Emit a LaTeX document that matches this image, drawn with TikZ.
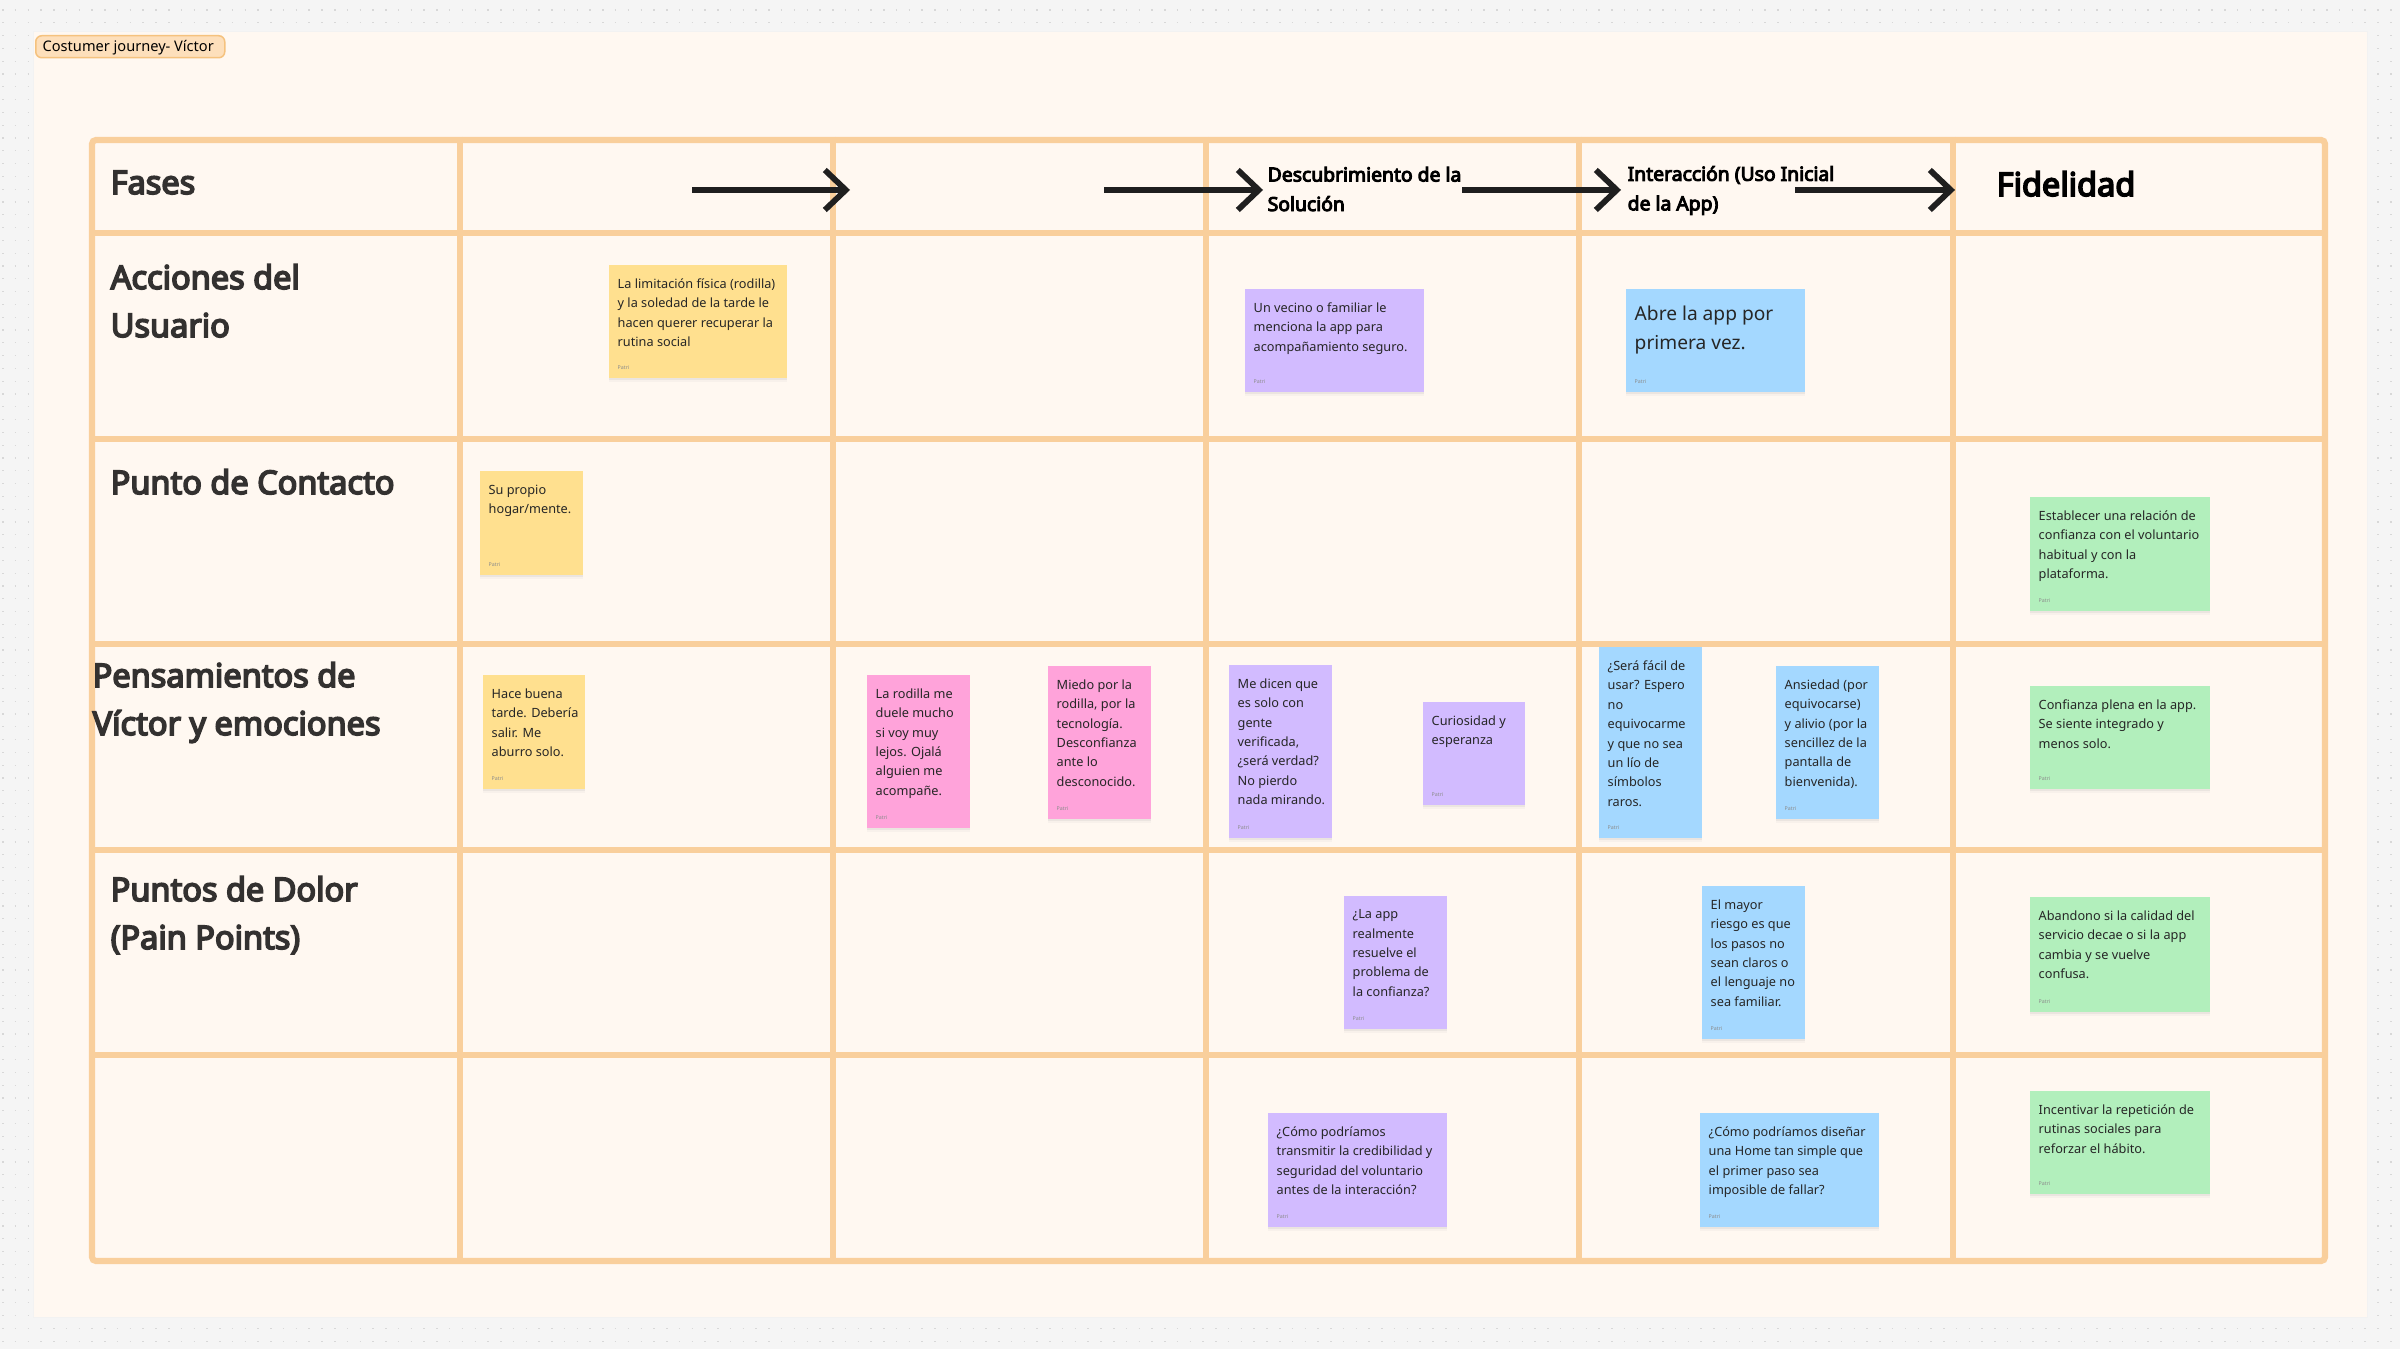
\documentclass[tikz,border=0pt]{standalone}
\usepackage{fontspec}
\setmainfont{Noto Sans}
\newfontfamily\negrita[FakeBold=5]{Noto Sans}
\usetikzlibrary{arrows.meta,shadows}
\definecolor{lienzo}{HTML}{F5F5F5}
\definecolor{punto}{HTML}{D8D8D8}
\definecolor{marco}{HTML}{FFF8F1}
\definecolor{rejilla}{HTML}{F9CF9C}
\definecolor{chapa}{HTML}{FDDFBB}
\definecolor{chapaborde}{HTML}{F5C27E}
\definecolor{amarillo}{HTML}{FFE08F}
\definecolor{rosa}{HTML}{FFA3DA}
\definecolor{morado}{HTML}{D2BBFF}
\definecolor{azul}{HTML}{A4D8FF}
\definecolor{verde}{HTML}{B2EFBC}
\definecolor{titulo}{HTML}{333130}
\tikzset{
	lineas/.style={rejilla, line width=0.062cm},
	flecha/.style={line width=0.058cm, black!88, -{Straight Barb[length=0.21cm,width=0.4cm]}},
	fase/.style={anchor=base west, inner sep=0, align=left, font=\negrita\fontsize{9.25}{13.7}\selectfont, text=titulo},
	subfase/.style={anchor=west, inner sep=0, align=left, font=\negrita\fontsize{5.5}{8.4}\selectfont, text=black},
	nota/.style={fill=#1, anchor=north west, inner sep=0, yshift=0.01cm, drop shadow={shadow xshift=0cm, shadow yshift=-0.045cm, opacity=0.05}, drop shadow={shadow xshift=0cm, shadow yshift=-0.02cm, opacity=0.1}},
	notatxt/.style={anchor=north west, inner sep=0, xshift=0.09cm, yshift=-0.14cm, align=left, text=black!85, font=\fontsize{3.62}{5.52}\selectfont},
	firma/.style={anchor=south west, inner sep=0, xshift=0.09cm, yshift=0.08cm, text=black!45, font=\fontsize{1.5}{2}\selectfont},
}
\begin{document}
\begin{tikzpicture}[x=1cm, y=-1cm]
	\useasboundingbox (0,0) rectangle (24,13.49);
	\fill[lienzo] (0,0) rectangle (24,13.49);
	\foreach \f in {0,...,105}
		\draw[punto, line width=0.012cm, dash pattern=on 0.015cm off 0.1127cm] (0.02,0.10+\f*0.128) -- (24,0.10+\f*0.128);
	\fill[marco, draw=black!5, line width=0.01cm] (0.33,0.32) rectangle (23.67,13.17);

	% rejilla
	\foreach \x in {4.60,8.33,12.06,15.79,19.53}
		\draw[lineas] (\x,1.37) -- (\x,12.64);
	\foreach \y in {2.33,4.39,6.44,8.50,10.55}
		\draw[lineas] (0.89,\y) -- (23.28,\y);
	\draw[lineas, rounded corners=0.04cm] (0.92,1.40) rectangle (23.25,12.61);

	\node[draw=chapaborde, fill=chapa, line width=0.015cm, rounded corners=0.06cm, anchor=north west, minimum width=1.89cm, minimum height=0.22cm, inner sep=0] (chapa) at (0.35,0.35) {};
	\node[anchor=west, inner sep=0, font=\fontsize{4.15}{5}\selectfont] (chapatxt) at (0.42,0.48) {Costumer journey- Víctor};

	% primera columna
	\node[fase] (fases) at (1.10,1.94) {Fases};
	\node[fase] (acciones) at (1.10,2.89) {Acciones del};
	\node[fase] (usuario) at (1.10,3.37) {Usuario};
	\node[fase] (contacto) at (1.10,4.94) {Punto de Contacto};
	\node[fase] (pensamientos) at (0.92,6.87) {Pensamientos de};
	\node[fase] (emociones) at (0.92,7.35) {Víctor y emociones};
	\node[fase] (dolor) at (1.10,9.01) {Puntos de Dolor};
	\node[fase] (pain) at (1.10,9.49) {(Pain Points)};

	% fila de fases
	\node[subfase] (descubrimiento) at (12.67,1.89) {Descubrimiento de la\\Solución};
	\node[subfase] (interaccion) at (16.27,1.905) {Interacción (Uso Inicial\\de la App)};
	\node[fase, text=black] (fidelidad) at (19.96,1.96) {Fidelidad};

	\coordinate (a1) at (6.92,1.90);
	\coordinate (b1) at (8.50,1.90);
	\coordinate (a2) at (11.04,1.90);
	\coordinate (b2) at (12.63,1.90);
	\coordinate (a3) at (14.62,1.90);
	\coordinate (b3) at (16.21,1.90);
	\coordinate (a4) at (17.95,1.90);
	\coordinate (b4) at (19.55,1.90);
	\draw[flecha] (a1) -- (b1);
	\draw[flecha] (a2) -- (b2);
	\draw[flecha] (a3) -- (b3);
	\draw[flecha] (a4) -- (b4);

	% notas
	\node[nota=amarillo, minimum width=1.78cm, minimum height=1.13cm] (limitacion) at (6.08,2.65) {};
	\node[notatxt] (limitaciontxt) at (limitacion.north west) {La limitación física (rodilla)\\y la soledad de la tarde le\\hacen querer recuperar la\\rutina social};
	\node[nota=morado, minimum width=1.79cm, minimum height=1.03cm] (vecino) at (12.44,2.89) {};
	\node[notatxt] (vecinotxt) at (vecino.north west) {Un vecino o familiar le\\menciona la app para\\acompañamiento seguro.};
	\node[nota=azul, minimum width=1.79cm, minimum height=1.03cm] (abre) at (16.25,2.89) {};
	\node[notatxt, yshift=-0.03cm, font=\fontsize{5.45}{8.25}\selectfont] (abretxt) at (abre.north west) {Abre la app por\\primera vez.};

	\node[nota=amarillo, minimum width=1.03cm, minimum height=1.04cm] (hogar) at (4.79,4.71) {};
	\node[notatxt] (hogartxt) at (hogar.north west) {Su propio\\hogar/mente.};
	\node[nota=verde, minimum width=1.80cm, minimum height=1.14cm] (relacion) at (20.29,4.97) {};
	\node[notatxt] (relaciontxt) at (relacion.north west) {Establecer una relación de\\confianza con el voluntario\\habitual y con la\\plataforma.};

	\node[nota=amarillo, minimum width=1.02cm, minimum height=1.14cm] (tarde) at (4.82,6.75) {};
	\node[notatxt] (tardetxt) at (tarde.north west) {Hace buena\\tarde. Debería\\salir. Me\\aburro solo.};
	\node[nota=rosa, minimum width=1.03cm, minimum height=1.53cm] (rodilla) at (8.66,6.75) {};
	\node[notatxt] (rodillatxt) at (rodilla.north west) {La rodilla me\\duele mucho\\si voy muy\\lejos. Ojalá\\alguien me\\acompañe.};
	\node[nota=rosa, minimum width=1.03cm, minimum height=1.53cm] (miedo) at (10.47,6.66) {};
	\node[notatxt] (miedotxt) at (miedo.north west) {Miedo por la\\rodilla, por la\\tecnología.\\Desconfianza\\ante lo\\desconocido.};
	\node[nota=morado, minimum width=1.03cm, minimum height=1.73cm] (gente) at (12.28,6.65) {};
	\node[notatxt] (gentetxt) at (gente.north west) {Me dicen que\\es solo con\\gente\\verificada,\\¿será verdad?\\No pierdo\\nada mirando.};
	\node[nota=morado, minimum width=1.02cm, minimum height=1.03cm] (curiosidad) at (14.22,7.02) {};
	\node[notatxt] (curiosidadtxt) at (curiosidad.north west) {Curiosidad y\\esperanza};
	\node[nota=azul, minimum width=1.03cm, minimum height=1.91cm] (facil) at (15.98,6.47) {};
	\node[notatxt] (faciltxt) at (facil.north west) {¿Será fácil de\\usar? Espero\\no\\equivocarme\\y que no sea\\un lío de\\símbolos\\raros.};
	\node[nota=azul, minimum width=1.03cm, minimum height=1.53cm] (ansiedad) at (17.75,6.66) {};
	\node[notatxt] (ansiedadtxt) at (ansiedad.north west) {Ansiedad (por\\equivocarse)\\y alivio (por la\\sencillez de la\\pantalla de\\bienvenida).};
	\node[nota=verde, minimum width=1.80cm, minimum height=1.03cm] (plena) at (20.29,6.86) {};
	\node[notatxt] (plenatxt) at (plena.north west) {Confianza plena en la app.\\Se siente integrado y\\menos solo.};

	\node[nota=morado, minimum width=1.03cm, minimum height=1.33cm] (resuelve) at (13.43,8.96) {};
	\node[notatxt] (resuelvetxt) at (resuelve.north west) {¿La app\\realmente\\resuelve el\\problema de\\la confianza?};
	\node[nota=azul, minimum width=1.03cm, minimum height=1.53cm] (riesgo) at (17.01,8.86) {};
	\node[notatxt] (riesgotxt) at (riesgo.north west) {El mayor\\riesgo es que\\los pasos no\\sean claros o\\el lenguaje no\\sea familiar.};
	\node[nota=verde, minimum width=1.80cm, minimum height=1.15cm] (abandono) at (20.29,8.97) {};
	\node[notatxt] (abandonotxt) at (abandono.north west) {Abandono si la calidad del\\servicio decae o si la app\\cambia y se vuelve\\confusa.};

	\node[nota=morado, minimum width=1.79cm, minimum height=1.14cm] (transmitir) at (12.67,11.13) {};
	\node[notatxt] (transmitirtxt) at (transmitir.north west) {¿Cómo podríamos\\transmitir la credibilidad y\\seguridad del voluntario\\antes de la interacción?};
	\node[nota=azul, minimum width=1.79cm, minimum height=1.14cm] (home) at (16.99,11.13) {};
	\node[notatxt] (hometxt) at (home.north west) {¿Cómo podríamos diseñar\\una Home tan simple que\\el primer paso sea\\imposible de fallar?};
	\node[nota=verde, minimum width=1.80cm, minimum height=1.03cm] (incentivar) at (20.29,10.91) {};
	\node[notatxt] (incentivartxt) at (incentivar.north west) {Incentivar la repetición de\\rutinas sociales para\\reforzar el hábito.};

	\foreach \n in {limitacion,vecino,abre,hogar,relacion,tarde,rodilla,miedo,gente,curiosidad,facil,ansiedad,plena,resuelve,riesgo,abandono,transmitir,home,incentivar}
		\node[firma] (\n firma) at (\n.south west) {Patri};
\end{tikzpicture}
\end{document}
